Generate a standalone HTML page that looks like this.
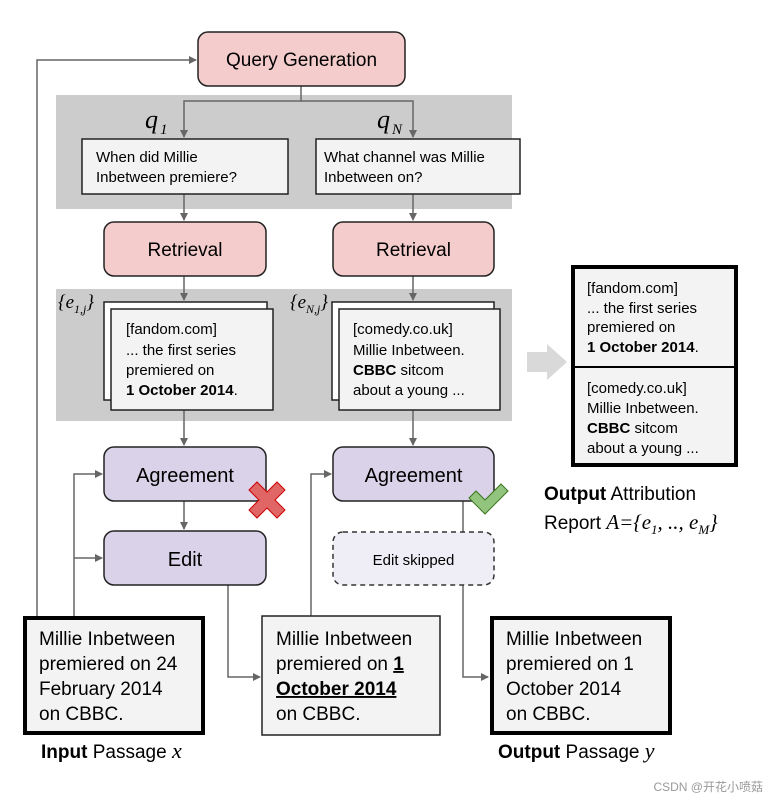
<!DOCTYPE html>
<html><head><style>
body{margin:0;background:#fff;}
svg text{font-family:"Liberation Sans",sans-serif;}
.s{font-family:"Liberation Serif",serif;font-style:italic;}
</style></head><body>
<svg width="769" height="801" viewBox="0 0 769 801" xmlns="http://www.w3.org/2000/svg">
<defs><marker id="a" markerWidth="8" markerHeight="8" refX="7" refY="4" orient="auto" markerUnits="userSpaceOnUse"><path d="M0,0 L8,4 L0,8 z" fill="#666"/></marker></defs>
<rect x="56" y="95" width="456" height="114" fill="#cccccc"/>
<rect x="56" y="289" width="456" height="132" fill="#cccccc"/>
<g stroke="#666" stroke-width="1.5" fill="none">
<path d="M301,86 V101 H184 V137" marker-end="url(#a)"/>
<path d="M301,101 H413 V137" marker-end="url(#a)"/>
<path d="M184,194 V220" marker-end="url(#a)"/>
<path d="M413,194 V220" marker-end="url(#a)"/>
<path d="M184,276 V300" marker-end="url(#a)"/>
<path d="M413,276 V300" marker-end="url(#a)"/>
<path d="M184,410 V445" marker-end="url(#a)"/>
<path d="M413,410 V445" marker-end="url(#a)"/>
<path d="M184,501 V529" marker-end="url(#a)"/>
<path d="M37,616 V60 H196" marker-end="url(#a)"/>
<path d="M74,616 V474 H102" marker-end="url(#a)"/>
<path d="M74,558 H102" marker-end="url(#a)"/>
<path d="M311,616 V474 H331" marker-end="url(#a)"/>
<path d="M228,585 V677 H260" marker-end="url(#a)"/>
<path d="M463,501 V677 H488" marker-end="url(#a)"/>
</g>
<rect x="198" y="32" width="207" height="54" rx="10" fill="#f4cccc" stroke="#222" stroke-width="1.5"/>
<text x="301.5" y="66" font-size="19" text-anchor="middle">Query Generation</text>
<text x="145" y="128" font-size="26" class="s">q</text><text x="160" y="134" font-size="15" class="s">1</text>
<text x="377" y="128" font-size="26" class="s">q</text><text x="392" y="134" font-size="15" class="s">N</text>
<rect x="82" y="139" width="206" height="55" fill="#f3f3f3" stroke="#222" stroke-width="1.5"/>
<text font-size="15"><tspan x="96" y="162">When did Millie</tspan><tspan x="96" y="182">Inbetween premiere?</tspan></text>
<rect x="316" y="139" width="204" height="55" fill="#f3f3f3" stroke="#222" stroke-width="1.5"/>
<text font-size="15"><tspan x="324" y="162">What channel was Millie</tspan><tspan x="324" y="182">Inbetween on?</tspan></text>
<rect x="104" y="222" width="162" height="54" rx="10" fill="#f4cccc" stroke="#222" stroke-width="1.5"/>
<text x="185" y="256" font-size="19" text-anchor="middle">Retrieval</text>
<rect x="333" y="222" width="161" height="54" rx="10" fill="#f4cccc" stroke="#222" stroke-width="1.5"/>
<text x="413.5" y="256" font-size="19" text-anchor="middle">Retrieval</text>
<text x="58" y="308" font-size="19" class="s">{e<tspan font-size="12" dy="5">1,j</tspan><tspan dy="-5">}</tspan></text>
<text x="290" y="308" font-size="19" class="s">{e<tspan font-size="12" dy="5">N,j</tspan><tspan dy="-5">}</tspan></text>
<rect x="104" y="302" width="163" height="98" fill="#fff" stroke="#222" stroke-width="1.5"/>
<rect x="111" y="309" width="162" height="101" fill="#f3f3f3" stroke="#222" stroke-width="1.5"/>
<text font-size="15"><tspan x="126" y="334">[fandom.com]</tspan><tspan x="126" y="355">... the first series</tspan><tspan x="126" y="375">premiered on</tspan><tspan x="126" y="395" font-weight="bold">1 October 2014</tspan><tspan>.</tspan></text>
<rect x="332" y="302" width="162" height="98" fill="#fff" stroke="#222" stroke-width="1.5"/>
<rect x="339" y="309" width="161" height="101" fill="#f3f3f3" stroke="#222" stroke-width="1.5"/>
<text font-size="15"><tspan x="353" y="334">[comedy.co.uk]</tspan><tspan x="353" y="355">Millie Inbetween.</tspan><tspan x="353" y="375" font-weight="bold">CBBC</tspan><tspan> sitcom</tspan><tspan x="353" y="395">about a young ...</tspan></text>
<rect x="104" y="447" width="162" height="54" rx="10" fill="#d9d2e9" stroke="#222" stroke-width="1.5"/>
<text x="185" y="482" font-size="20" text-anchor="middle">Agreement</text>
<rect x="333" y="447" width="161" height="54" rx="10" fill="#d9d2e9" stroke="#222" stroke-width="1.5"/>
<text x="413.5" y="482" font-size="20" text-anchor="middle">Agreement</text>
<path d="M249,490 l8,-8 l10,10 l10,-10 l8,8 l-10,10 l10,10 l-8,8 l-10,-10 l-10,10 l-8,-8 l10,-10 z" fill="#e06666" stroke="#c00" stroke-width="1"/>
<path d="M469,498 l7,-7 l9,9 l16,-16 l7,7 l-23,23 z" fill="#93c47d" stroke="#38761d" stroke-width="1"/>
<rect x="104" y="531" width="162" height="54" rx="10" fill="#d9d2e9" stroke="#222" stroke-width="1.5"/>
<text x="185" y="566" font-size="20" text-anchor="middle">Edit</text>
<rect x="333" y="532" width="161" height="53" rx="10" fill="#efedf5" stroke="#333" stroke-width="1.5" stroke-dasharray="5,4"/>
<text x="413.5" y="565" font-size="15" text-anchor="middle">Edit skipped</text>
<rect x="25" y="618" width="178" height="115" fill="#f3f3f3" stroke="#000" stroke-width="4"/>
<text font-size="19"><tspan x="39" y="645">Millie Inbetween</tspan><tspan x="39" y="670">premiered on 24</tspan><tspan x="39" y="695">February 2014</tspan><tspan x="39" y="720">on CBBC.</tspan></text>
<rect x="262" y="616" width="178" height="119" fill="#f3f3f3" stroke="#222" stroke-width="1.5"/>
<text font-size="19"><tspan x="276" y="645">Millie Inbetween</tspan><tspan x="276" y="670">premiered on </tspan><tspan font-weight="bold" text-decoration="underline">1</tspan><tspan x="276" y="695" font-weight="bold" text-decoration="underline">October 2014</tspan><tspan x="276" y="720">on CBBC.</tspan></text>
<rect x="492" y="618" width="178" height="115" fill="#f3f3f3" stroke="#000" stroke-width="4"/>
<text font-size="19"><tspan x="506" y="645">Millie Inbetween</tspan><tspan x="506" y="670">premiered on 1</tspan><tspan x="506" y="695">October 2014</tspan><tspan x="506" y="720">on CBBC.</tspan></text>
<text x="41" y="758" font-size="19"><tspan font-weight="bold">Input</tspan> Passage <tspan class="s" font-size="22">x</tspan></text>
<text x="498" y="758" font-size="19"><tspan font-weight="bold">Output</tspan> Passage <tspan class="s" font-size="22">y</tspan></text>
<path d="M527,352 h20 v-8 l20,18 l-20,18 v-8 h-20 z" fill="#d9d9d9"/>
<rect x="573" y="267" width="163" height="198" fill="#f3f3f3" stroke="#000" stroke-width="4"/>
<line x1="573" y1="367" x2="736" y2="367" stroke="#000" stroke-width="2"/>
<text font-size="15"><tspan x="587" y="293">[fandom.com]</tspan><tspan x="587" y="313">... the first series</tspan><tspan x="587" y="332">premiered on</tspan><tspan x="587" y="352" font-weight="bold">1 October 2014</tspan><tspan>.</tspan></text>
<text font-size="15"><tspan x="587" y="393">[comedy.co.uk]</tspan><tspan x="587" y="413">Millie Inbetween.</tspan><tspan x="587" y="433" font-weight="bold">CBBC</tspan><tspan> sitcom</tspan><tspan x="587" y="453">about a young ...</tspan></text>
<text x="544" y="500" font-size="19"><tspan font-weight="bold">Output</tspan> Attribution</text>
<text x="544" y="529" font-size="19">Report <tspan class="s" font-size="21">A</tspan><tspan class="s" font-size="21">={e</tspan><tspan class="s" font-size="13" dy="5">1</tspan><tspan class="s" font-size="21" dy="-5">, .., e</tspan><tspan class="s" font-size="13" dy="5">M</tspan><tspan class="s" font-size="21" dy="-5">}</tspan></text>
<text x="763" y="791" font-size="12" fill="#999" text-anchor="end" font-family="Liberation Sans, Noto Sans CJK SC, sans-serif">CSDN @开花小喷菇</text>
</svg>
</body></html>
